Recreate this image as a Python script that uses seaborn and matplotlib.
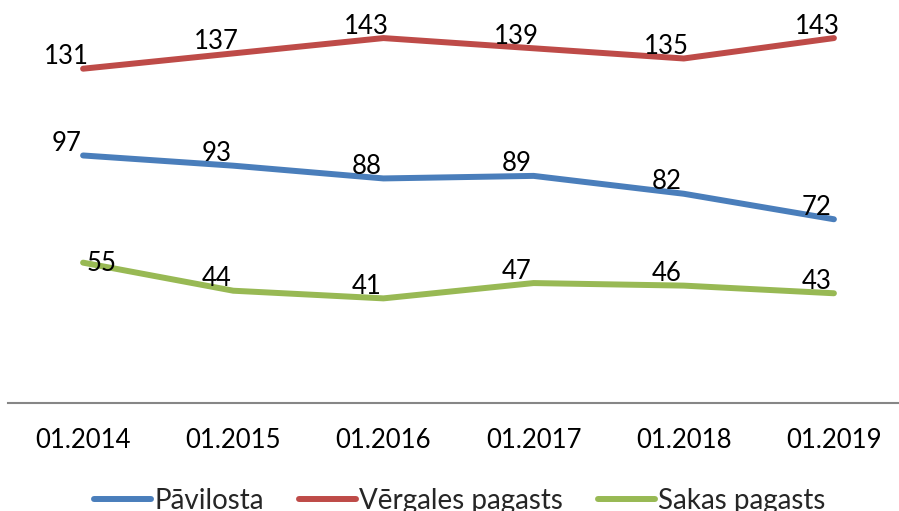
import pandas as pd
import matplotlib.pyplot as plt
import seaborn as sns

# dati
gadi = ["01.2014", "01.2015", "01.2016", "01.2017", "01.2018", "01.2019"]
pavilosta = [97, 93, 88, 89, 82, 72]
vergales = [131, 137, 143, 139, 135, 143]
sakas = [55, 44, 41, 47, 46, 43]
nosaukumi = ["Pāvilosta", "Vērgales pagasts", "Sakas pagasts"]
krasas = ["#4A7EBB", "#BE4B48", "#98B954"]


def main():
    df = pd.DataFrame({
        "gads": gadi * 3,
        "vertiba": pavilosta + vergales + sakas,
        "teritorija": [n for n in nosaukumi for _ in gadi],
    })

    sns.set_theme(style="white")
    plt.rcParams["font.family"] = ["Lato", "DejaVu Sans"]

    fig = plt.figure(figsize=(8.99, 5.11), dpi=100)
    ax = fig.add_axes([8 / 899, 108 / 511, 901 / 899, 408.3 / 511])

    sns.lineplot(
        data=df, x="gads", y="vertiba", hue="teritorija",
        hue_order=nosaukumi, palette=krasas,
        linewidth=4.3, solid_capstyle="round", legend=False, ax=ax,
    )

    # vērtību etiķetes
    for sērija, vertibas in zip(nosaukumi, [pavilosta, vergales, sakas]):
        for i, v in enumerate(vertibas):
            nobide = (-17, 12)
            if sērija == "Sakas pagasts" and i == 0:
                nobide = (19, -1)
            ax.annotate(str(v), (i, v), xytext=nobide, textcoords="offset pixels",
                        ha="center", va="center", fontsize=18.5, color="black")

    ax.set_xlim(-0.5, len(gadi) - 0.5)
    ax.set_ylim(0, 160)
    ax.set_xlabel("")
    ax.set_ylabel("")
    ax.set_yticks([])
    ax.tick_params(axis="x", length=0, pad=18, labelsize=18.5, colors="black")

    for s in ["left", "top", "right"]:
        ax.spines[s].set_visible(False)
    ax.spines["bottom"].set_color("#868686")
    ax.spines["bottom"].set_linewidth(1.5)

    rokturi = [plt.Line2D([], [], color=c, linewidth=4.3, solid_capstyle="round")
               for c in krasas]
    fig.legend(rokturi, nosaukumi, loc="center", bbox_to_anchor=(460 / 899, 1 - 501 / 511),
               ncol=3, frameon=False, fontsize=20, handlelength=2.05,
               handletextpad=0.12, columnspacing=1.26)

    fig.savefig("out.png", dpi=100, facecolor="white")


if __name__ == "__main__":
    main()
